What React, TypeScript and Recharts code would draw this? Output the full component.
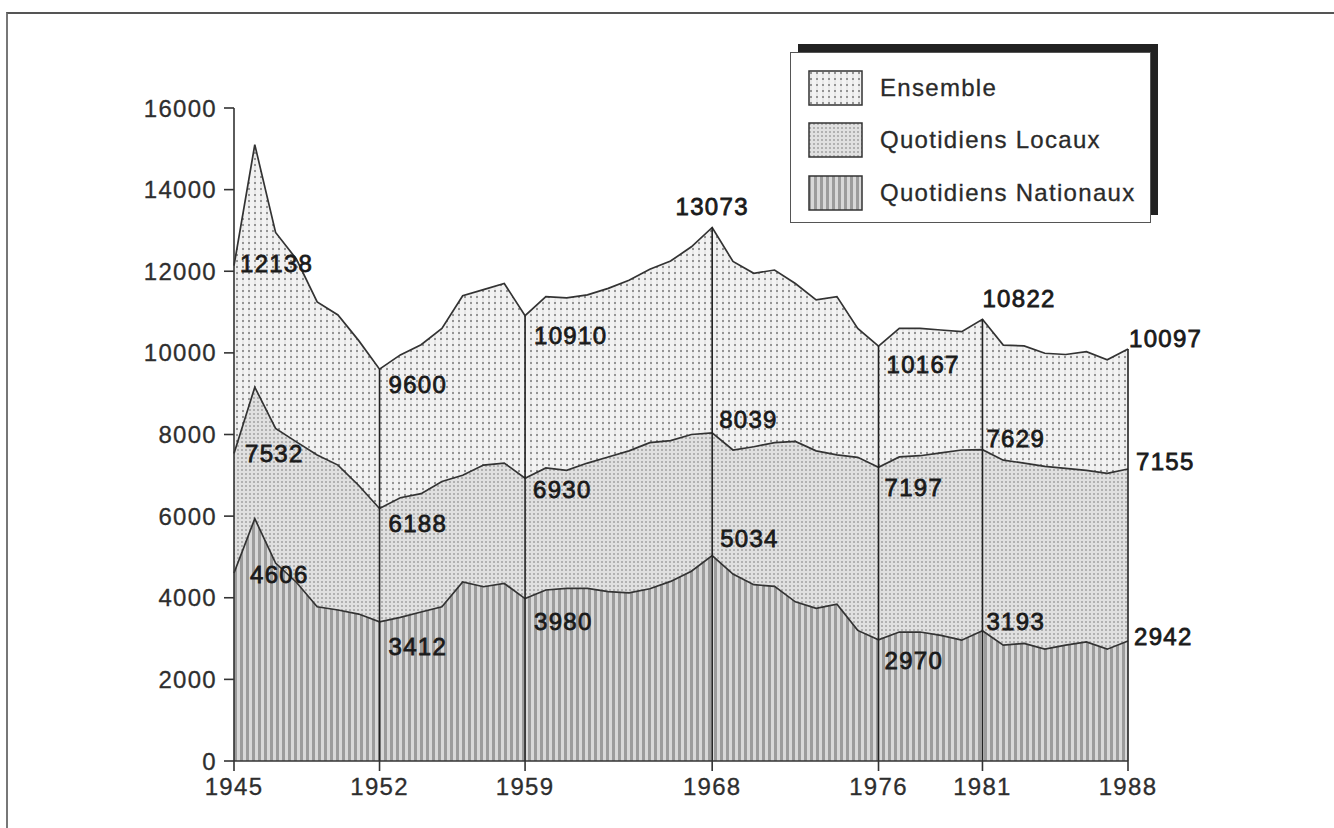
import React from 'react';
import { AreaChart, Area, XAxis, YAxis, ReferenceLine, LabelList } from 'recharts';

const years = [1945, 1946, 1947, 1948, 1949, 1950, 1951, 1952, 1953, 1954, 1955, 1956, 1957, 1958, 1959, 1960, 1961, 1962, 1963, 1964, 1965, 1966, 1967, 1968, 1969, 1970, 1971, 1972, 1973, 1974, 1975, 1976, 1977, 1978, 1979, 1980, 1981, 1982, 1983, 1984, 1985, 1986, 1987, 1988];

const ensemble = [12138, 15100, 12950, 12300, 11250, 10930, 10300, 9600, 9950, 10200, 10600, 11400, 11550, 11700, 10910, 11380, 11350, 11420, 11580, 11780, 12050, 12250, 12600, 13073, 12240, 11950, 12030, 11700, 11300, 11380, 10600, 10167, 10600, 10600, 10560, 10520, 10822, 10190, 10170, 9990, 9960, 10030, 9830, 10097];

const locaux = [7532, 9160, 8150, 7820, 7500, 7250, 6750, 6188, 6450, 6550, 6850, 7000, 7250, 7300, 6930, 7180, 7120, 7300, 7450, 7600, 7800, 7850, 8000, 8039, 7620, 7700, 7800, 7830, 7600, 7500, 7440, 7197, 7450, 7480, 7550, 7620, 7629, 7370, 7300, 7220, 7170, 7120, 7050, 7155];

const nationaux = [4606, 5940, 4850, 4380, 3780, 3700, 3600, 3412, 3520, 3650, 3780, 4390, 4270, 4350, 3980, 4190, 4230, 4230, 4150, 4120, 4220, 4400, 4650, 5034, 4580, 4320, 4280, 3900, 3740, 3840, 3200, 2970, 3160, 3160, 3080, 2960, 3193, 2840, 2880, 2740, 2840, 2920, 2740, 2942];

const xTicks = [1945, 1952, 1959, 1968, 1976, 1981, 1988];
const yTicks = [0, 2000, 4000, 6000, 8000, 10000, 12000, 14000, 16000];
const seriesNames = ['Ensemble', 'Quotidiens Locaux', 'Quotidiens Nationaux'];

const data = years.map((y, i) => ({ year: y, ens: ensemble[i], loc: locaux[i], nat: nationaux[i] }));

const FONT = '"Liberation Sans", Arial, Helvetica, sans-serif';
const LS = 1.3;

// label placement (dx, dy, anchor) relative to the data point
const labelPlacement: Record<string, Record<number, [number, number, string]>> = {
  ens: { 1945: [6, -2, 'start'], 1952: [9, 15, 'start'], 1959: [9, 20, 'start'], 1968: [0, -21, 'middle'], 1976: [8, 18, 'start'], 1981: [0, -21, 'start'], 1988: [1, -11, 'start'] },
  loc: { 1945: [11, 0, 'start'], 1952: [9, 15, 'start'], 1959: [8, 11, 'start'], 1968: [7, -14, 'start'], 1976: [6, 20, 'start'], 1981: [4, -11, 'start'], 1988: [8, -8, 'start'] },
  nat: { 1945: [16, 1, 'start'], 1952: [9, 25, 'start'], 1959: [9, 23, 'start'], 1968: [8, -17, 'start'], 1976: [6, 21, 'start'], 1981: [4, -9, 'start'], 1988: [6, -5, 'start'] },
};

const makeLabel = (key: string) => (props: any) => {
  const { index, value } = props;
  const x = props.x ?? props.viewBox?.x;
  const y = props.y ?? props.viewBox?.y;
  const yr = years[index];
  const p = labelPlacement[key][yr];
  if (!p || x == null || y == null) return null;
  return (
    <text
      key={`${key}-${yr}`}
      x={x + p[0]}
      y={y + p[1]}
      dy="0.36em"
      textAnchor={p[2] as any}
      fontFamily={FONT}
      fontSize={24}
      letterSpacing={LS}
      fill="#1a1a1a"
      stroke="#1a1a1a"
      strokeWidth={0.8}
    >
      {value}
    </text>
  );
};

const Patterns = ({ prefix }: { prefix: string }) => (
  <defs>
    <pattern id={`${prefix}-ens`} width="6" height="6" patternUnits="userSpaceOnUse">
      <rect width="6" height="6" fill="#f2f2f2" />
      <rect x="2.5" y="0" width="1" height="6" fill="#dedede" />
      <rect x="2.2" y="2.2" width="1.6" height="1.6" fill="#666" />
    </pattern>
    <pattern id={`${prefix}-loc`} width="4" height="4" patternUnits="userSpaceOnUse">
      <rect width="4" height="4" fill="#e0e0e0" />
      <rect x="1.2" y="1.2" width="1.6" height="1.6" fill="#979797" />
    </pattern>
    <pattern id={`${prefix}-nat`} width="6" height="6" patternUnits="userSpaceOnUse">
      <rect width="6" height="6" fill="#d8d8d8" />
      <rect x="0" y="0" width="3" height="6" fill="#9c9c9c" />
    </pattern>
  </defs>
);

const segLine = (yr: number) => {
  const i = years.indexOf(yr);
  return [{ x: yr, y: 0 }, { x: yr, y: ensemble[i] }];
};

const Legend = () => {
  const keys = ['ens', 'loc', 'nat'];
  const rowsY = [70, 122, 175];
  return (
    <>
      <div style={{ position: 'absolute', left: 798, top: 44, width: 360, height: 171, background: '#222' }} />
      <div style={{ position: 'absolute', left: 790, top: 52, width: 361, height: 171, background: '#fff', border: '1.5px solid #555', boxSizing: 'border-box' }} />
      {keys.map((k, i) => (
        <React.Fragment key={k}>
          <svg style={{ position: 'absolute', left: 808, top: rowsY[i] }} width={55} height={36}>
            <Patterns prefix={`lg${i}`} />
            <rect x={1} y={1} width={53} height={34} fill={`url(#lg${i}-${k})`} stroke="#333" strokeWidth={1.5} />
          </svg>
          <div
            style={{
              position: 'absolute',
              left: 880,
              top: rowsY[i] + 18 - 14,
              fontFamily: FONT,
              fontSize: 24,
              letterSpacing: LS,
              color: '#2a2a2a',
              lineHeight: '28px',
              whiteSpace: 'nowrap',
              WebkitTextStroke: '0.3px #2a2a2a',
            }}
          >
            {seriesNames[i]}
          </div>
        </React.Fragment>
      ))}
    </>
  );
};

export default function App() {
  const tickStyle = { fontSize: 24, fill: '#2e2e2e', fontFamily: FONT, letterSpacing: LS, stroke: '#2e2e2e', strokeWidth: 0.3 };
  return (
    <div style={{ position: 'absolute', left: 0, top: 0, width: 1334, height: 828, overflow: 'hidden', background: '#fff' }}>
      <div style={{ position: 'absolute', left: 6, top: 12, width: 2000, height: 2000, borderTop: '2px solid #555', borderLeft: '2px solid #777' }} />
      <div style={{ position: 'absolute', left: 0, top: 0 }}>
        <AreaChart
          width={1334}
          height={828}
          data={data}
          margin={{ top: 108, right: 206, bottom: 27, left: 134 }}
          style={{ overflow: 'visible' }}
        >
          <Patterns prefix="ch" />
          <XAxis
            dataKey="year"
            type="number"
            domain={[1945, 1988]}
            ticks={xTicks}
            interval={0}
            height={40}
            tickSize={10}
            tickMargin={7}
            tick={tickStyle}
            axisLine={{ stroke: '#333', strokeWidth: 1.6 }}
            tickLine={{ stroke: '#333', strokeWidth: 1.6 }}
          />
          <YAxis
            type="number"
            domain={[0, 16000]}
            ticks={yTicks}
            interval={0}
            width={100}
            tickSize={10}
            tickMargin={7}
            tick={tickStyle}
            axisLine={{ stroke: '#333', strokeWidth: 1.6 }}
            tickLine={{ stroke: '#333', strokeWidth: 1.6 }}
          />
          <Area type="linear" dataKey="ens" stroke="#333" strokeWidth={1.7} fill="url(#ch-ens)" fillOpacity={1} isAnimationActive={false} dot={false} activeDot={false}>
            <LabelList dataKey="ens" content={makeLabel('ens')} />
          </Area>
          <Area type="linear" dataKey="loc" stroke="#333" strokeWidth={1.7} fill="url(#ch-loc)" fillOpacity={1} isAnimationActive={false} dot={false} activeDot={false}>
            <LabelList dataKey="loc" content={makeLabel('loc')} />
          </Area>
          <Area type="linear" dataKey="nat" stroke="#333" strokeWidth={1.7} fill="url(#ch-nat)" fillOpacity={1} isAnimationActive={false} dot={false} activeDot={false}>
            <LabelList dataKey="nat" content={makeLabel('nat')} />
          </Area>
          {xTicks.slice(1).map((yr) => (
            <ReferenceLine key={yr} segment={segLine(yr)} stroke="#222" strokeWidth={1.6} ifOverflow="visible" />
          ))}
        </AreaChart>
      </div>
      <Legend />
    </div>
  );
}
